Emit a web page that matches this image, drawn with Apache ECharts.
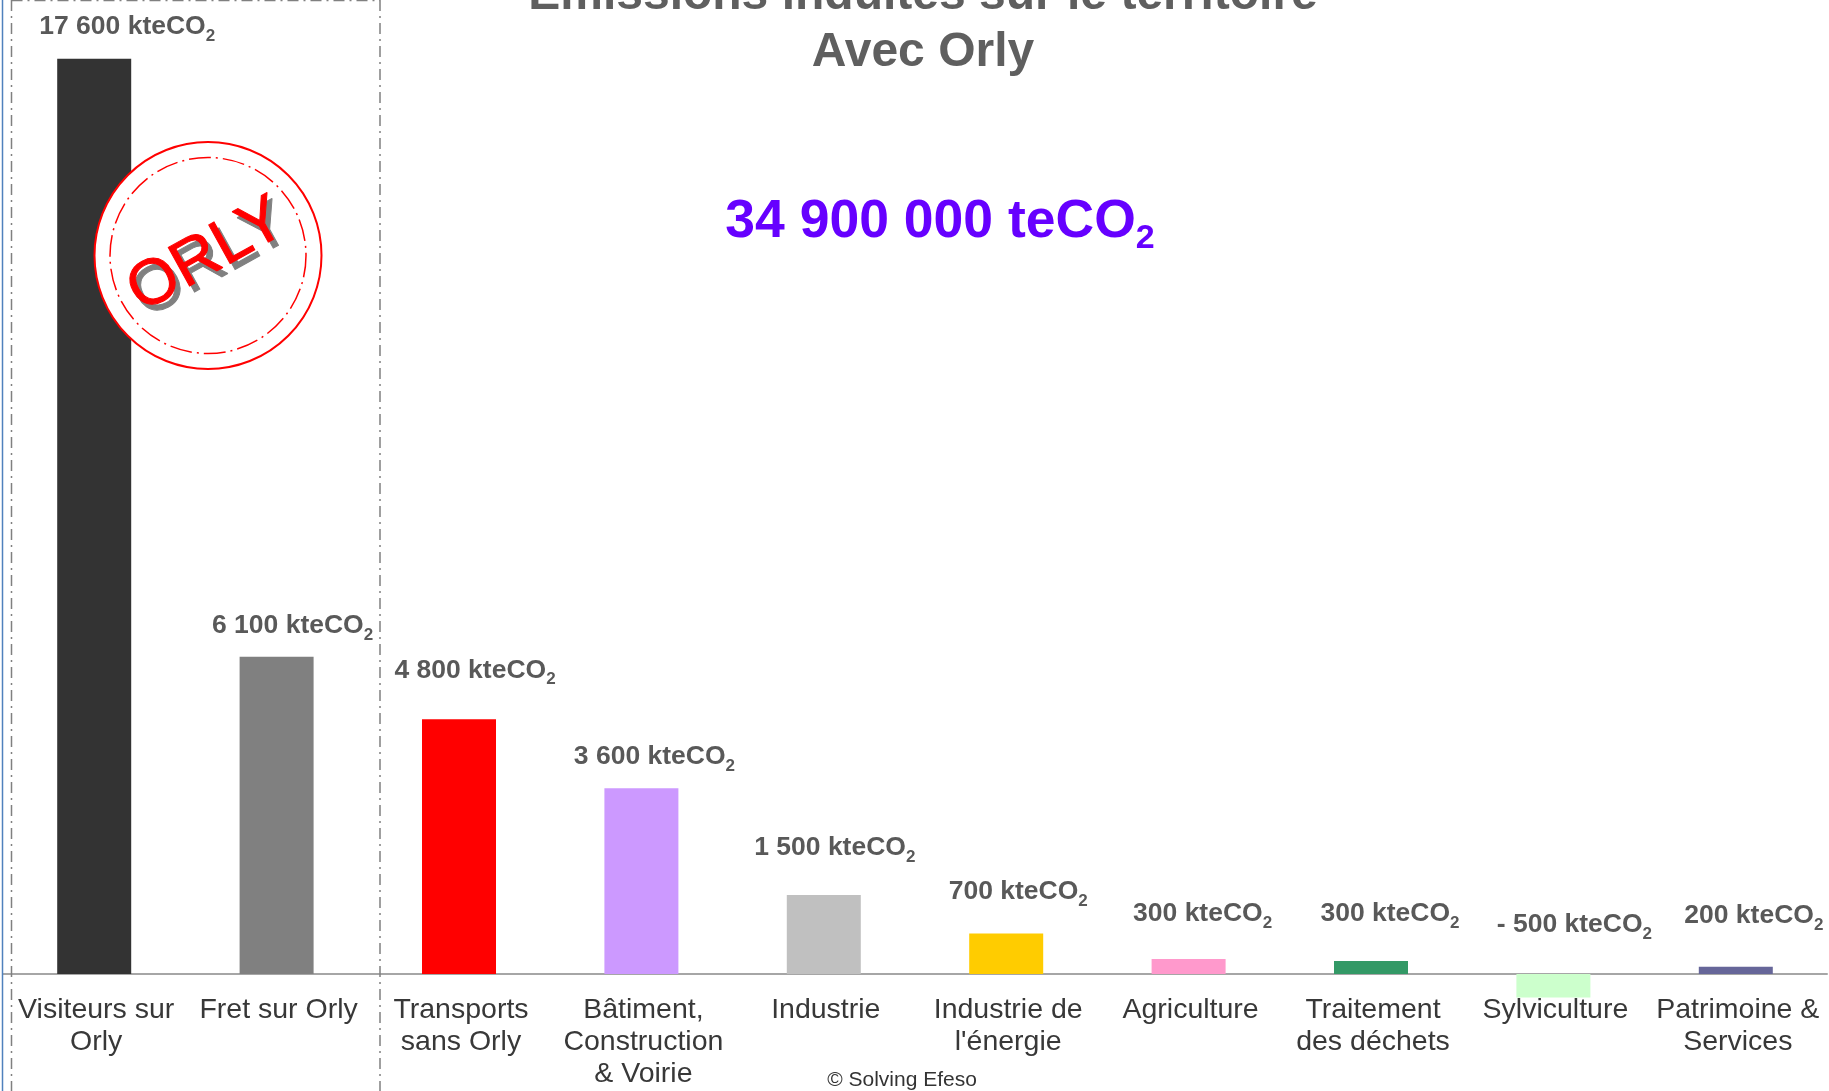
<!DOCTYPE html>
<html><head><meta charset="utf-8">
<style>html,body{margin:0;padding:0;background:#fff}#c{width:1829px;height:1091px}</style>
<script src="https://cdn.jsdelivr.net/npm/echarts@6/dist/echarts.min.js"></script>
</head><body><div id="c"></div>
<script>
const categories = ['Visiteurs sur\nOrly','Fret sur Orly','Transports\nsans Orly','Bâtiment,\nConstruction\n& Voirie','Industrie','Industrie de\nl\'énergie','Agriculture','Traitement\ndes déchets','Sylviculture','Patrimoine &\nServices'];
const values = [17600,6100,4900,3570,1520,780,290,250,-450,140];
const printedValues = ['17 600','6 100','4 800','3 600','1 500','700','300','300','- 500','200'];
const colors = ['#333333','#808080','#ff0000','#cc99ff','#c0c0c0','#ffcc00','#ff99cc','#339966','#ccffcc','#666699'];
const labelOffsets = [[33,-12],[16,-11],[16,-29],[13,-12],[11,-27],[12,-22],[14,-25],[19,-27],[21,-29],[18,-31]];

const font = '"Liberation Sans", Arial, sans-serif';
const chart = echarts.init(document.getElementById('c'), null, {renderer:'canvas'});
const dashDot = [11,5,2,5];
const boxLine = (x1,y1,x2,y2) => ({type:'line',z:10,shape:{x1,y1,x2,y2},style:{stroke:'#808080',lineWidth:1.5,lineDash:dashDot}});
chart.setOption({
  animation:false,
  backgroundColor:'#ffffff',
  grid:{left:3,right:2,top:38,bottom:91,outerBoundsMode:'none',containLabel:false},
  xAxis:{type:'category',data:categories,
    axisLine:{onZero:true,lineStyle:{color:'#a6a6a6',width:2}},
    axisTick:{show:false},
    axisLabel:{interval:0,color:'#383838',fontFamily:font,fontSize:28.5,lineHeight:32,margin:-5.5,hideOverlap:false,padding:[0,0,0,4]}},
  yAxis:{type:'value',min:-500,max:18000,show:false,splitLine:{show:false}},
  series:[{type:'bar',barWidth:74,
    data:values.map((v,i)=>({value:v,itemStyle:{color:colors[i]},
      label:{offset:labelOffsets[i],formatter:'{a|'+printedValues[i]+' kteCO}{s|2}'}})),
    label:{show:true,position:'top',rich:{
      a:{fontFamily:font,fontSize:26.5,fontWeight:'bold',color:'#595959',lineHeight:30},
      s:{fontFamily:font,fontSize:17,fontWeight:'bold',color:'#595959',lineHeight:30,verticalAlign:'bottom',padding:[0,0,-3,0]}
    }}}],
  graphic:[
    {type:'line',z:11,shape:{x1:2.5,y1:0,x2:2.5,y2:1091},style:{stroke:'#4f81bd',lineWidth:1.5}},
    boxLine(11.5,0.5,380,0.5), boxLine(11.5,0,11.5,1091), boxLine(380,0,380,1091),
    {type:'text',z:12,x:923,y:-4.5,style:{text:'Emissions induites sur le territoire',fontFamily:font,fontSize:48,fontWeight:'bold',fill:'#5f5f5f',align:'center',verticalAlign:'middle'}},
    {type:'text',z:12,x:923,y:52.5,style:{text:'Avec Orly',fontFamily:font,fontSize:48,fontWeight:'bold',fill:'#5f5f5f',align:'center',verticalAlign:'middle'}},
    {type:'text',z:12,x:940,y:222,style:{align:'center',verticalAlign:'middle',
      text:'{a|34 900 000 teCO}{s|2}',rich:{
        a:{fontFamily:font,fontSize:53.5,fontWeight:'bold',fill:'#6600ff',lineHeight:60},
        s:{fontFamily:font,fontSize:34,fontWeight:'bold',fill:'#6600ff',lineHeight:60,verticalAlign:'bottom',padding:[0,0,-4,0]}}}},
    {type:'text',z:12,x:902,y:1080,style:{text:'© Solving Efeso',fontFamily:font,fontSize:21,fill:'#333333',align:'center',verticalAlign:'middle'}},
    {type:'circle',z:20,shape:{cx:208,cy:255.5,r:113.5},style:{fill:'#ffffff',stroke:'#ff0000',lineWidth:2}},
    {type:'circle',z:21,shape:{cx:208,cy:255.5,r:98},style:{fill:'none',stroke:'#ff0000',lineWidth:1.5,lineDash:[22,5,2,5]}},
    {type:'text',z:22,x:212,y:262,rotation:29*Math.PI/180,style:{text:'ORLY',fontFamily:font,fontSize:64,fill:'#808080',stroke:'#808080',lineWidth:1,align:'center',verticalAlign:'middle'}},
    {type:'text',z:23,x:207,y:256,rotation:29*Math.PI/180,style:{text:'ORLY',fontFamily:font,fontSize:64,fill:'#ff0000',stroke:'#ff0000',lineWidth:1,align:'center',verticalAlign:'middle'}}
  ]
});
</script></body></html>
